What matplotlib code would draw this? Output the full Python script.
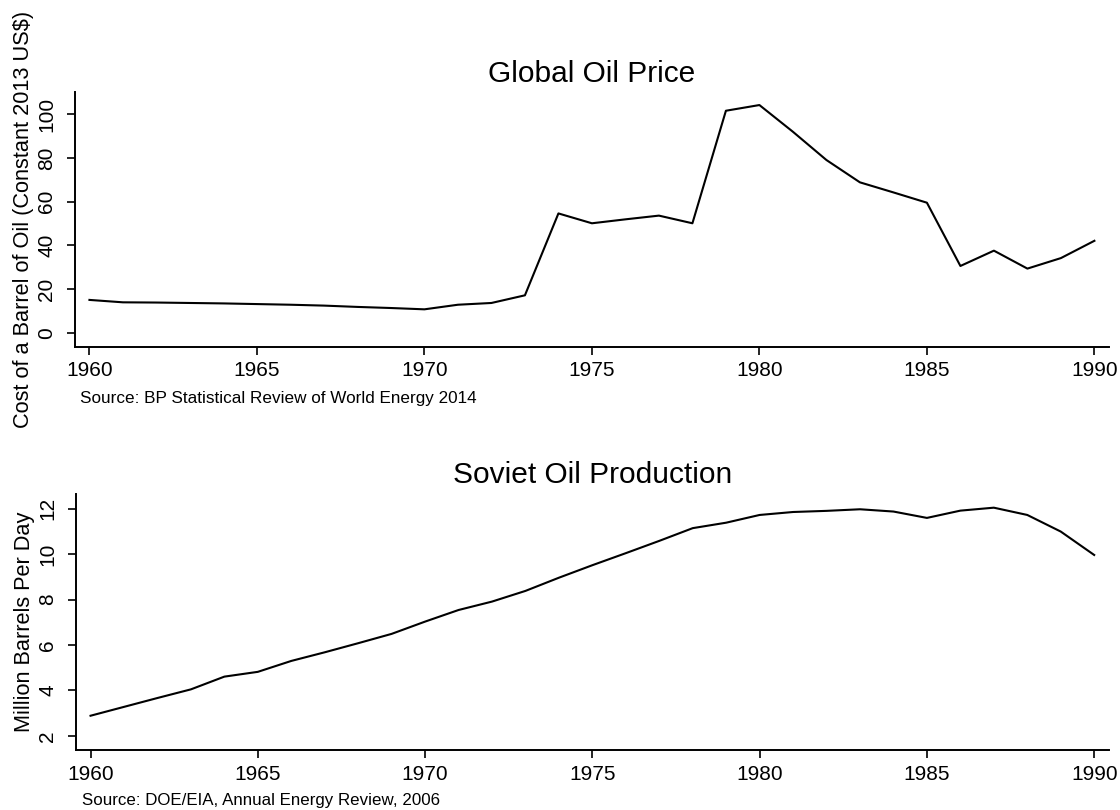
"""Global oil price and Soviet oil production, 1960-1990 (Stata-like two-panel layout)."""
import matplotlib
matplotlib.use("Agg")
import matplotlib.pyplot as plt

plt.rcParams["font.family"] = ["Liberation Sans", "DejaVu Sans"]

years = list(range(1960, 1991))

# Cost of a barrel of oil, constant 2013 US$
oil_price = [15.1, 14.0, 13.9, 13.7, 13.5, 13.2, 12.9, 12.5, 11.9, 11.4, 10.8,
             12.9, 13.7, 17.2, 54.6, 50.1, 51.9, 53.6, 50.1, 101.5, 104.1,
             91.9, 79.0, 68.8, 64.2, 59.5, 30.6, 37.6, 29.4, 34.2, 42.1]

# Soviet oil production, million barrels per day
soviet_prod = [2.89, 3.28, 3.67, 4.05, 4.61, 4.82, 5.30, 5.68, 6.08, 6.49, 7.03,
               7.54, 7.91, 8.38, 8.96, 9.51, 10.04, 10.58, 11.14, 11.38, 11.72,
               11.85, 11.90, 11.97, 11.87, 11.59, 11.91, 12.04, 11.72, 10.99, 9.96]

x_ticks = [1960, 1965, 1970, 1975, 1980, 1985, 1990]


def style_axis(ax):
    for side in ("top", "right"):
        ax.spines[side].set_visible(False)
    for side in ("left", "bottom"):
        ax.spines[side].set_linewidth(1.4)
    ax.set_xlim(1959.57, 1990.43)
    ax.set_xticks(x_ticks)
    ax.tick_params(axis="both", length=6, width=1.2, labelsize=15)
    ax.tick_params(axis="x", pad=4.5)
    ax.tick_params(axis="y", labelrotation=90, pad=7.5)
    for lab in ax.get_yticklabels():
        lab.set_va("center")


fig = plt.figure(figsize=(11.2, 8.1), dpi=100)

ax1 = fig.add_axes([0.067, 0.572, 0.923, 0.3148])
ax1.plot(years, oil_price, color="black", lw=1.5)
ax1.set_ylim(-6.26, 110.2)
ax1.set_yticks([0, 20, 40, 60, 80, 100])
style_axis(ax1)
ax1.set_title("Global Oil Price", fontsize=21.5, pad=7)
ax1.set_ylabel("Cost of a Barrel of Oil (Constant 2013 US$)", fontsize=15.7, va="center")
ax1.yaxis.set_label_coords(-0.05, 0.5)
fig.text(80 / 1120, 1 - 398 / 810, "Source: BP Statistical Review of World Energy 2014",
         fontsize=12.3, va="center", ha="left")

ax2 = fig.add_axes([0.068, 0.0741, 0.9218, 0.3157])
ax2.plot(years, soviet_prod, color="black", lw=1.5)
ax2.set_ylim(1.384, 12.63)
ax2.set_yticks([2, 4, 6, 8, 10, 12])
style_axis(ax2)
ax2.set_title("Soviet Oil Production", fontsize=21.5, pad=8)
ax2.set_ylabel("Million Barrels Per Day", fontsize=15.7, va="center")
ax2.yaxis.set_label_coords(-0.0497, 0.5)
fig.text(81.7 / 1120, 1 - 800 / 810, "Source: DOE/EIA, Annual Energy Review, 2006",
         fontsize=12.2, va="center", ha="left")

fig.savefig("out.png", dpi=100)
